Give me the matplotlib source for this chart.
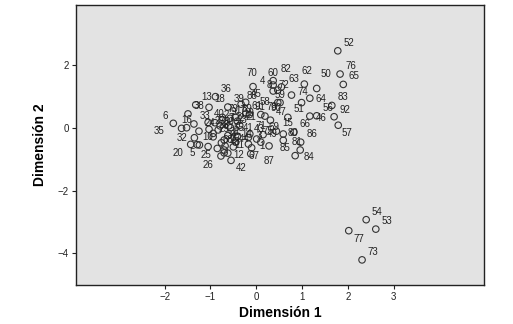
import numpy as np
import matplotlib
matplotlib.use("Agg")
import matplotlib.pyplot as plt

plt.rcParams['font.family'] = ['Liberation Sans', 'DejaVu Sans']

# case number and the two dimension scores
case_ids = [52, 76, 65, 50, 62, 82, 60, 70, 63, 4,
            8, 72, 36, 74, 45, 59, 88, 39, 13, 18,
            83, 64, 58, 61, 89, 79, 38, 56, 92, 51,
            47, 33, 40, 6, 16, 46, 66, 15, 22, 71,
            69, 55, 35, 32, 10, 14, 3, 49, 80, 86,
            57, 11, 1, 81, 85, 20, 5, 25, 12, 26,
            42, 67, 87, 84, 54, 53, 77, 73,
            2, 7, 9, 17, 19, 21, 23, 24, 27, 28,
            29, 30, 31, 34, 37, 41, 43, 44, 48, 68,
            75, 78, 90, 91]
dim1 = [1.78, 1.83, 1.90, 1.32, 1.05, 0.55, 0.37, -0.07, 0.77, 0.37,
        0.37, 0.47, -0.89, 0.99, -0.23, 0.52, -0.33, -0.62, -1.32, -1.03,
        1.65, 1.17, 0.47, -0.23, -0.45, -0.74, -1.49, 1.32, 1.70, 0.69,
        0.31, -1.36, -1.05, -1.81, -1.52, 1.17, 0.82, 0.44, -0.60, -0.14,
        0.15, -0.62, -1.63, -1.35, -1.29, -0.45, -0.17, 0.10, 0.59, 0.97,
        1.79, -0.62, -0.12, 0.96, 0.59, -1.43, -1.24, -1.05, -0.70, -0.77,
        -0.55, -0.10, 0.28, 0.85, 2.40, 2.61, 2.02, 2.31,
        -0.90, -0.79, -0.74, -0.57, -0.41, -0.36, -0.56, -1.25, -1.03, -0.94,
        -0.94, -0.83, -0.70, -0.76, -0.68, -0.41, -0.17, -0.50, -0.70, -0.85,
        0.01, 0.10, 0.19, -0.15]
dim2 = [2.45, 1.71, 1.38, 1.25, 1.39, 1.30, 1.50, 1.31, 1.04, 1.36,
        1.17, 1.20, 0.99, 0.80, 0.81, 0.80, 0.75, 0.66, 0.73, 0.65,
        0.71, 0.94, 0.80, 0.44, 0.33, 0.33, 0.44, 0.38, 0.35, 0.33,
        0.24, 0.12, 0.17, 0.14, 0.00, 0.37, -0.14, -0.11, 0.06, -0.20,
        -0.22, -0.25, -0.02, -0.32, -0.54, -0.46, -0.52, -0.46, -0.20, -0.46,
        0.08, -0.81, -0.83, -0.71, -0.40, -0.53, -0.55, -0.60, -0.80, -0.90,
        -1.04, -0.64, -0.58, -0.89, -2.93, -3.23, -3.28, -4.21,
        0.16, 0.06, 0.24, 0.30, 0.21, 0.08, 0.00, -0.11, -0.05, -0.18,
        -0.29, -0.07, -0.39, -0.48, -0.58, -0.27, -0.31, -0.61, -0.71, -0.66,
        -0.36, 0.42, 0.37, 0.42]

xticks = [-2, -1, 0, 1, 2, 3]
yticks = [-4, -2, 0, 2]

# label placement (pixels) where the label is not up-right of its point
default_off = (11, 8)
label_off = {70: (-1, 14), 60: (0, 8), 82: (5, 18), 63: (2, 16), 62: (3, 13),
             50: (9, 14), 74: (1, 11), 64: (11, -1), 4: (-11, 4), 8: (-4, 6),
             72: (6, 5), 59: (0, 8), 58: (-13, 1), 16: (0, 8), 6: (-8, 7),
             35: (-22, -3), 32: (-12, 0), 20: (-13, -9), 5: (-7, -8),
             25: (-2, -8), 26: (-13, -9), 42: (10, -8), 12: (15, -2),
             67: (2, -8), 87: (0, -15), 84: (14, -1), 81: (-3, 8),
             85: (2, -8), 57: (9, -8), 77: (10, -8), 46: (11, -2),
             92: (11, 7), 80: (10, 1)}

fig = plt.figure(figsize=(5.13, 3.24), dpi=100)
ax = fig.add_axes([0.1476, 0.1204, 0.7966, 0.8642])
ax.set_facecolor('#e3e3e3')

ax.scatter(dim1, dim2, s=22, facecolors='none', edgecolors='#333333',
           linewidths=0.8, zorder=3)
for cid, x, y in zip(case_ids, dim1, dim2):
    ax.annotate(str(cid), (x, y), xytext=label_off.get(cid, default_off),
                textcoords='offset pixels', ha='center', va='center',
                fontsize=7, color='#222222', zorder=4)

ax.set_xlim(-3.94, 4.98)
ax.set_ylim(-5.01, 3.91)
ax.set_xticks(xticks)
ax.set_yticks(yticks)
ax.tick_params(labelsize=7, length=3, width=0.8, colors='#222222', pad=2)
for sp in ax.spines.values():
    sp.set_linewidth(1.0)
    sp.set_color('#222222')

ax.set_xlabel('Dimensión 1', fontsize=10, fontweight='bold', labelpad=3)
ax.set_ylabel('Dimensión 2', fontsize=10, fontweight='bold', labelpad=8)

plt.savefig('out.png', dpi=100)
